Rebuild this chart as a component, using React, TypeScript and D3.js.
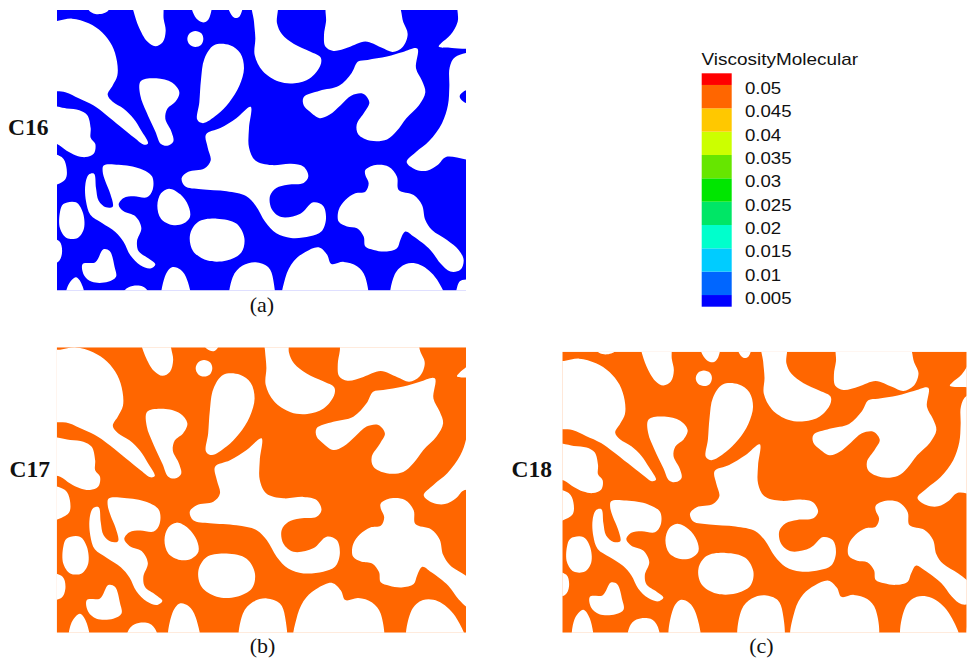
import React, { useEffect, useRef } from "react";
import * as d3 from "d3";

const W = 970;
const H = 663;

// cases shown in the three panels
const caseNames = ["C16", "C17", "C18"];
const caseLabels = ["(a)", "(b)", "(c)"];
const caseViscosity = [0.004, 0.048, 0.048];

// contour levels of the legend
const levels = [0.005, 0.01, 0.015, 0.02, 0.025, 0.03, 0.035, 0.04, 0.045, 0.05];
const levelLabels = ["0.005", "0.01", "0.015", "0.02", "0.025", "0.03", "0.035", "0.04", "0.045", "0.05"];
const bandColors = [
  "#0000ff", "#0066ff", "#00ccff", "#00ffcc", "#00e666", "#00e600",
  "#66e600", "#ccff00", "#ffc800", "#ff6600", "#ff0000",
];
const legendTitle = "ViscosityMolecular";

// solid grains of the porous medium, traced in one grid (same geometry in every case)
const grains: [number, number][][] = [
  [[-40, 40], [5, 38], [50, 31], [100, 45], [140, 72], [170, 112], [185, 160], [186, 202], [172, 232], [157, 260], [172, 281], [205, 302], [235, 332], [258, 368], [278, 406], [266, 410], [238, 390], [195, 355], [150, 318], [115, 292], [70, 270], [30, 252], [-40, 238]],
  [[95, -20], [100, 5], [120, 17], [145, 15], [160, 5], [165, -20]],
  [[228, -20], [235, 10], [250, 55], [276, 100], [300, 114], [322, 102], [331, 68], [325, 32], [318, -20]],
  [[420, 68], [438, 75], [444, 92], [437, 110], [420, 116], [403, 109], [396, 92], [403, 75]],
  [[408, -20], [412, 10], [428, 35], [448, 42], [462, 28], [466, -20]],
  [[518, -20], [522, 8], [537, 28], [552, 25], [561, -20]],
  [[476, 111], [524, 111], [555, 135], [566, 180], [552, 233], [522, 282], [485, 320], [443, 345], [426, 335], [432, 282], [437, 214], [447, 152]],
  [[256, 219], [303, 210], [350, 223], [372, 252], [360, 281], [336, 302], [330, 332], [348, 370], [354, 400], [336, 413], [317, 408], [300, 370], [273, 311], [255, 262]],
  [[592, -20], [596, 40], [600, 90], [598, 140], [622, 188], [670, 220], [718, 225], [764, 210], [795, 172], [796, 148], [764, 130], [716, 107], [680, 78], [665, 45], [664, -20]],
  [[818, -20], [812, 40], [806, 80], [810, 115], [834, 128], [880, 117], [930, 100], [978, 118], [1012, 131], [1042, 116], [1057, 77], [1044, 42], [1022, -20]],
  [[1210, -20], [1207, 40], [1185, 80], [1158, 104], [1150, 115], [1190, 119], [1270, 112], [1270, -20]],
  [[745, 267], [793, 248], [851, 233], [889, 194], [908, 160], [937, 155], [995, 145], [1043, 131], [1086, 121], [1082, 180], [1100, 218], [1110, 252], [1091, 291], [1053, 330], [1024, 369], [995, 394], [947, 398], [909, 379], [904, 350], [928, 311], [942, 282], [923, 257], [889, 262], [856, 291], [822, 320], [793, 330], [764, 311], [745, 291]],
  [[1270, 140], [1200, 146], [1183, 178], [1182, 235], [1178, 290], [1160, 345], [1122, 398], [1082, 432], [1054, 462], [1080, 484], [1115, 488], [1148, 470], [1172, 447], [1270, 448]],
  [[586, 296], [581, 360], [581, 418], [600, 457], [649, 471], [707, 467], [745, 476], [759, 505], [745, 525], [697, 530], [663, 540], [644, 564], [649, 603], [678, 627], [735, 617], [774, 583], [803, 593], [812, 632], [798, 671], [764, 685], [707, 690], [663, 676], [630, 642], [601, 593], [572, 564], [514, 550], [437, 544], [389, 535], [379, 510], [399, 491], [447, 481], [466, 457], [457, 418], [452, 379], [495, 360], [543, 330]],
  [[-40, 296], [34, 301], [72, 306], [96, 321], [106, 360], [106, 389], [120, 408], [115, 437], [91, 447], [62, 442], [34, 428], [5, 408], [-40, 398]],
  [[-40, 437], [19, 447], [33, 476], [29, 515], [-40, 535]],
  [[145, 472], [190, 470], [255, 482], [290, 505], [292, 545], [275, 568], [235, 565], [205, 570], [190, 590], [205, 610], [240, 625], [258, 660], [245, 700], [250, 730], [280, 752], [300, 770], [285, 782], [255, 772], [225, 742], [205, 702], [180, 672], [140, 645], [105, 620], [92, 580], [90, 530], [100, 500], [116, 497], [122, 540], [130, 578], [152, 598], [172, 596], [165, 558], [150, 520], [142, 490]],
  [[341, 542], [375, 559], [399, 593], [404, 627], [384, 647], [351, 651], [317, 632], [306, 593], [317, 556]],
  [[428, 642], [485, 632], [543, 647], [567, 690], [558, 734], [514, 758], [457, 758], [413, 729], [404, 681]],
  [[24, 588], [62, 583], [82, 612], [86, 661], [67, 690], [34, 690], [14, 661], [14, 612]],
  [[-40, 690], [12, 700], [20, 735], [8, 762], [-40, 765]],
  [[82, 768], [120, 763], [144, 724], [163, 729], [178, 778], [182, 807], [158, 822], [110, 822], [86, 802]],
  [[34, 920], [36, 838], [62, 808], [82, 836], [88, 920]],
  [[197, 920], [200, 860], [220, 838], [262, 836], [283, 860], [286, 920]],
  [[322, 920], [328, 808], [350, 778], [376, 786], [396, 818], [406, 920]],
  [[528, 920], [532, 808], [562, 773], [601, 763], [639, 778], [654, 817], [650, 920]],
  [[685, 920], [690, 810], [715, 760], [750, 732], [790, 718], [815, 740], [828, 768], [865, 762], [905, 775], [930, 808], [928, 920]],
  [[930, 486], [960, 471], [1000, 476], [1025, 506], [1030, 546], [1075, 561], [1100, 591], [1110, 636], [1130, 666], [1175, 696], [1210, 726], [1225, 756], [1215, 786], [1185, 791], [1155, 766], [1125, 726], [1075, 686], [1050, 671], [1035, 696], [1025, 721], [990, 731], [955, 726], [930, 716], [925, 686], [905, 661], [875, 656], [850, 641], [850, 606], [870, 576], [900, 556], [930, 551], [940, 526], [930, 501]],
  [[1012, 920], [1018, 800], [1052, 768], [1095, 771], [1145, 815], [1178, 920]],
  [[1205, 920], [1212, 822], [1232, 815], [1270, 815], [1270, 920]],
];

// fluid pocket cut into the right-hand grain
const pockets: [number, number][][] = [
  [[1270, 245], [1230, 247], [1213, 265], [1230, 284], [1270, 286]],
];

// layout: where each panel sits on the page and which part of the grid it shows
const views = [
  { box: [57, 10, 466, 290.5], xDom: [5, 1232], yDom: [5, 848], nameX: 48.5, nameY: 135, labX: 262, labY: 312 },
  { box: [56.7, 347.3, 466, 632.7], xDom: [-5, 1176], yDom: [30.7, 863], nameX: 50, nameY: 477, labX: 262.5, labY: 653 },
  { box: [562.3, 351.7, 966.7, 632.7], xDom: [0, 1200], yDom: [9.5, 879], nameX: 552, nameY: 477, labX: 761.5, labY: 653 },
];

const App = () => {
  const ref = useRef<SVGSVGElement>(null);

  useEffect(() => {
    const svg = d3.select(ref.current);
    svg.selectAll("*").remove();
    const defs = svg.append("defs");

    const colorOf = d3.scaleThreshold<number, string>().domain(levels).range(bandColors);
    const line = d3.line().curve(d3.curveCatmullRomClosed.alpha(0.5));

    caseNames.forEach((name, i) => {
      const v = views[i];
      const x = d3.scaleLinear().domain(v.xDom).range([v.box[0], v.box[2]]);
      const y = d3.scaleLinear().domain(v.yDom).range([v.box[1], v.box[3]]);
      const toPath = (pts: [number, number][]) =>
        line(pts.map((p) => [x(p[0]), y(p[1])] as [number, number]));

      defs
        .append("clipPath")
        .attr("id", `clip-${i}`)
        .append("rect")
        .attr("x", v.box[0])
        .attr("y", v.box[1])
        .attr("width", v.box[2] - v.box[0])
        .attr("height", v.box[3] - v.box[1]);

      const g = svg.append("g").attr("clip-path", `url(#clip-${i})`);
      const fluid = colorOf(caseViscosity[i]);
      g.append("rect")
        .attr("x", v.box[0])
        .attr("y", v.box[1])
        .attr("width", v.box[2] - v.box[0])
        .attr("height", v.box[3] - v.box[1])
        .attr("fill", fluid);
      g.selectAll("path.grain")
        .data(grains)
        .join("path")
        .attr("class", "grain")
        .attr("d", (d) => toPath(d))
        .attr("fill", "#fff");
      g.selectAll("path.pocket")
        .data(pockets)
        .join("path")
        .attr("class", "pocket")
        .attr("d", (d) => toPath(d))
        .attr("fill", fluid);

      svg.append("text")
        .attr("x", v.nameX)
        .attr("y", v.nameY)
        .attr("text-anchor", "end")
        .attr("font-family", "'Liberation Serif', 'Times New Roman', serif")
        .attr("font-weight", "bold")
        .attr("font-size", 23.5)
        .attr("fill", "#111")
        .text(name);

      svg.append("text")
        .attr("x", v.labX)
        .attr("y", v.labY)
        .attr("text-anchor", "middle")
        .attr("font-family", "'Liberation Serif', 'Times New Roman', serif")
        .attr("font-size", 22)
        .attr("fill", "#111")
        .text(caseLabels[i]);
    });

    // legend
    const ly = d3.scaleLinear().domain([0.0025, 0.0525]).range([306.7, 73.3]);
    const bands = bandColors.map((c, i) => ({
      lo: i === 0 ? 0.0025 : levels[i - 1],
      hi: i === bandColors.length - 1 ? 0.0525 : levels[i],
      c,
    }));
    const lg = svg.append("g");
    lg.selectAll("rect")
      .data(bands)
      .join("rect")
      .attr("x", 701.7)
      .attr("width", 30)
      .attr("y", (d) => ly(d.hi))
      .attr("height", (d) => ly(d.lo) - ly(d.hi))
      .attr("fill", (d) => d.c);

    const sans = "'Liberation Sans', Arial, Helvetica, sans-serif";
    lg.append("text")
      .attr("transform", "translate(701.5,65) scale(1.17,1)")
      .attr("font-family", sans)
      .attr("font-size", 16.2)
      .attr("fill", "#111")
      .text(legendTitle);

    lg.selectAll("text.tick")
      .data(levels)
      .join("text")
      .attr("class", "tick")
      .attr("transform", (d) => `translate(745,${ly(d) + 9}) scale(1.15,1)`)
      .attr("font-family", sans)
      .attr("font-size", 16.2)
      .attr("fill", "#111")
      .text((d, i) => levelLabels[i]);
  }, []);

  return (
    <svg
      ref={ref}
      width={W}
      height={H}
      style={{ position: "absolute", left: 0, top: 0, background: "#fff" }}
    />
  );
};

export default App;
